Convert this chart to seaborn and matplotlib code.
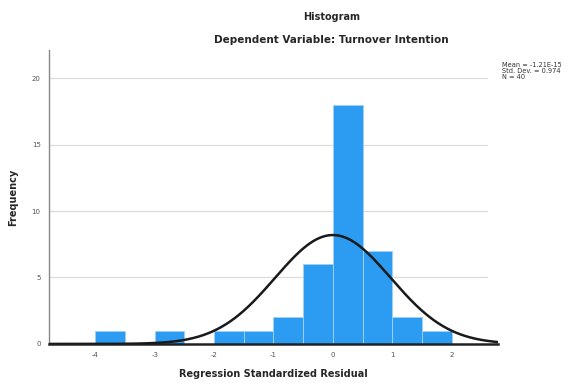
import numpy as np
import pandas as pd
import matplotlib
matplotlib.use("Agg")
import matplotlib.pyplot as plt
import seaborn as sns

# Histogram of regression standardized residuals (bin width 0.5)
bin_edges = [-4.0, -3.5, -3.0, -2.5, -2.0, -1.5, -1.0, -0.5, 0.0, 0.5, 1.0, 1.5, 2.0]
counts = [1, 0, 1, 0, 1, 1, 2, 6, 18, 7, 2, 1]
mean_val = -1.21e-15
std_val = 0.974
n_val = 40

x_ticks = [-4, -3, -2, -1, 0, 1, 2]
y_ticks = [0, 5, 10, 15, 20]

centers = [(a + b) / 2 for a, b in zip(bin_edges[:-1], bin_edges[1:])]
df = pd.DataFrame({"resid": centers, "count": counts})

sns.set_style("white")
plt.rcParams["font.family"] = ["DejaVu Sans"]
plt.rcParams["axes.unicode_minus"] = False

fig = plt.figure(figsize=(5.77, 3.83), dpi=100)
ax = fig.add_axes([0.085, 0.102, 0.778, 0.767])

for y in y_ticks[1:]:
    ax.axhline(y, xmax=0.975, color="#dcdcdc", lw=0.9, zorder=0)

sns.histplot(data=df, x="resid", weights="count", bins=bin_edges, ax=ax,
             color="#2b9cf2", alpha=1.0, edgecolor="#9fd0f7", linewidth=0.7,
             zorder=2)

# Normal curve scaled to counts
bw = bin_edges[1] - bin_edges[0]
xs = np.linspace(-4.78, 2.78, 400)
ys = n_val * bw * np.exp(-0.5 * ((xs - mean_val) / std_val) ** 2) / (std_val * np.sqrt(2 * np.pi))
ax.plot(xs, ys, color="#1a1a1a", lw=1.8, zorder=3)

ax.set_xlim(-4.78, 2.78)
ax.set_ylim(0, 22.1)
ax.set_xticks(x_ticks)
ax.set_yticks(y_ticks)
ax.tick_params(axis="both", labelsize=5, length=0, pad=6)
for lbl in ax.get_xticklabels() + ax.get_yticklabels():
    lbl.set_color("#555555")

for side in ["top", "right"]:
    ax.spines[side].set_visible(False)
ax.spines["left"].set_color("#888888")
ax.spines["left"].set_linewidth(1.0)
ax.spines["bottom"].set_color("#222222")
ax.spines["bottom"].set_linewidth(1.8)

ax.set_xlabel("Regression Standardized Residual", fontsize=7, fontweight="bold", labelpad=8)
ax.set_ylabel("Frequency", fontsize=7, fontweight="bold", labelpad=10)

fig.text(0.575, 0.955, "Histogram", ha="center", va="center", fontsize=7, fontweight="bold")
fig.text(0.575, 0.895, "Dependent Variable: Turnover Intention", ha="center", va="center",
         fontsize=7.5, fontweight="bold")

stats = f"Mean = {mean_val:.2E}\nStd. Dev. = {std_val:.3f}\nN = {n_val}"
fig.text(0.870, 0.838, stats, ha="left", va="top", fontsize=4.8, linespacing=1.0, color="#333333")

fig.savefig("out.png", dpi=100)
